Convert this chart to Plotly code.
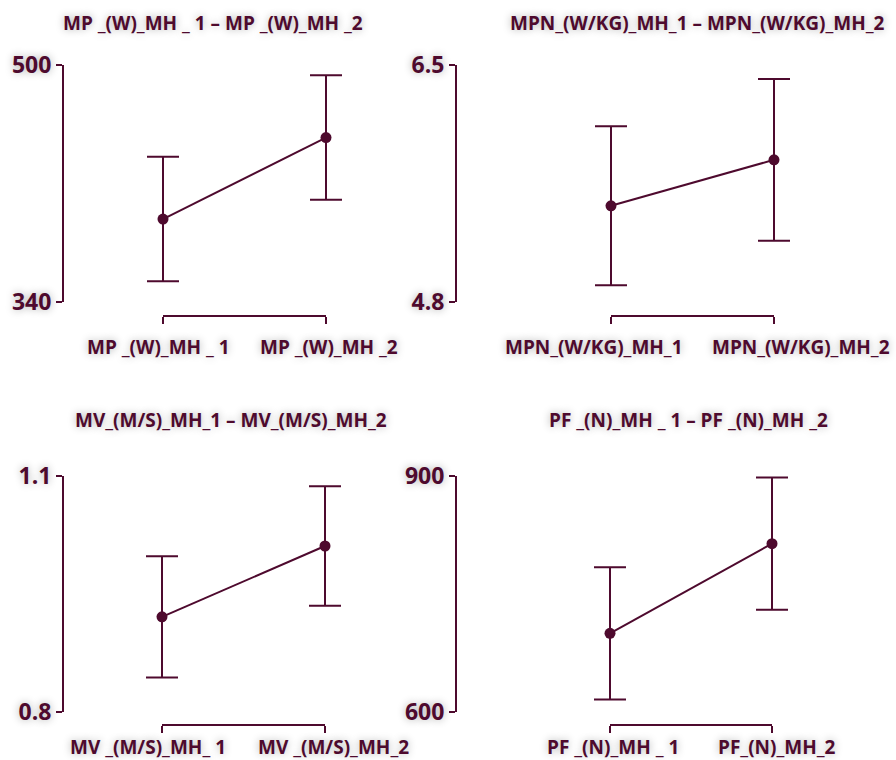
import plotly.graph_objects as go

W, H = 896, 760
COLOR = "#4e0a2e"
FONT = "Open Sans"
SHADOW = "0px 0px 8px rgba(0,0,0,0.33)"

# ---- data ----
mp_labels = ["MP _(W)_MH _ 1", "MP _(W)_MH _2"]
mp_mean = [396, 451]
mp_err = [42, 42]

mpn_labels = ["MPN_(W/KG)_MH_1", "MPN_(W/KG)_MH_2"]
mpn_mean = [5.49, 5.82]
mpn_err = [0.57, 0.58]

mv_labels = ["MV _(M/S)_MH_ 1", "MV _(M/S)_MH_2"]
mv_mean = [0.921, 1.011]
mv_err = [0.077, 0.076]

pf_labels = ["PF _(N)_MH _ 1", "PF_(N)_MH_2"]
pf_mean = [700, 814]
pf_err = [84, 84]

titles = ["MP _(W)_MH _ 1 – MP _(W)_MH _2",
          "MPN_(W/KG)_MH_1 – MPN_(W/KG)_MH_2",
          "MV_(M/S)_MH_1 – MV_(M/S)_MH_2",
          "PF _(N)_MH _ 1 – PF _(N)_MH _2"]
y_ranges = [[340, 500], [4.8, 6.5], [0.8, 1.1], [600, 900]]
y_ticktext = [["340", "500"], ["4.8", "6.5"], ["0.8", "1.1"], ["600", "900"]]

# ---- layout geometry (pixels) ----
panels = [
    dict(x0=163, x1=326, y0=65, y1=302, yax=63, xax=316, title=(213, 23), lab_y=347, shifts=(-5, 3)),
    dict(x0=611, x1=774, y0=65, y1=302, yax=456, xax=316, title=(697, 23), lab_y=347, shifts=(-17, 27)),
    dict(x0=162, x1=325, y0=476, y1=712, yax=63, xax=725, title=(231, 420), lab_y=747, shifts=(-14, 8)),
    dict(x0=610, x1=772, y0=476, y1=712, yax=456, xax=725, title=(688, 420), lab_y=747, shifts=(3, 5)),
]
datasets = [(mp_labels, mp_mean, mp_err), (mpn_labels, mpn_mean, mpn_err),
            (mv_labels, mv_mean, mv_err), (pf_labels, pf_mean, pf_err)]

px = lambda v: v / W
py = lambda v: 1 - v / H

def key(prefix, n):
    return prefix if n == 1 else f"{prefix}{n}"

fig = go.Figure()
annotations = []
for i, (p, (labs, mean, err)) in enumerate(zip(panels, datasets)):
    n = i + 1
    nd = n + 4  # decorative bracket axis
    half = (p["x1"] - p["x0"]) / 2
    # invisible trace registering the trimmed bracket axis
    fig.add_trace(go.Scatter(
        x=labs, y=mean, xaxis=key("x", nd), yaxis=key("y", n), mode="markers",
        marker=dict(opacity=0), showlegend=False, hoverinfo="skip"))
    # data trace on a wide, hidden x axis (so caps are not clipped)
    fig.add_trace(go.Scatter(
        x=labs, y=mean, xaxis=key("x", n), yaxis=key("y", n), mode="lines+markers",
        line=dict(color=COLOR, width=2),
        marker=dict(color=COLOR, size=11),
        error_y=dict(type="data", array=err, visible=True, color=COLOR, thickness=2, width=16),
        cliponaxis=False, showlegend=False, hoverinfo="skip"))
    fig.layout[key("xaxis", n)] = dict(
        domain=[px(p["x0"] - half), px(p["x1"] + half)], range=[-0.5, 1.5], type="category",
        categoryarray=labs, anchor=key("y", n), visible=False, fixedrange=True, automargin=False)
    fig.layout[key("xaxis", nd)] = dict(
        domain=[px(p["x0"]), px(p["x1"])], range=[0, 1], type="category", categoryarray=labs,
        anchor="free", position=py(p["xax"]),
        showline=True, linecolor=COLOR, linewidth=2,
        ticks="outside", ticklen=7, tickwidth=2, tickcolor=COLOR,
        showticklabels=False, showgrid=False, zeroline=False, fixedrange=True, automargin=False)
    fig.layout[key("yaxis", n)] = dict(
        domain=[py(p["y1"]), py(p["y0"])], range=y_ranges[i],
        anchor="free", position=px(p["yax"]),
        showline=True, linecolor=COLOR, linewidth=2,
        ticks="outside", ticklen=6, tickwidth=2, tickcolor=COLOR,
        tickvals=[y_ranges[i][0], y_ranges[i][1]], ticktext=y_ticktext[i],
        tickfont=dict(family=FONT, size=23, color=COLOR, weight="bold", shadow=SHADOW),
        showgrid=False, zeroline=False, fixedrange=True, automargin=False)
    annotations.append(dict(
        text=titles[i], x=px(p["title"][0]), y=py(p["title"][1]), xref="paper", yref="paper",
        xanchor="center", yanchor="middle", showarrow=False,
        font=dict(family=FONT, size=19, color=COLOR, weight="bold", shadow=SHADOW)))
    for j, lab in enumerate(labs):
        annotations.append(dict(
            text=lab, x=lab, xref=key("x", n), y=py(p["lab_y"]), yref="paper",
            xanchor="center", yanchor="middle", showarrow=False, xshift=p["shifts"][j],
            font=dict(family=FONT, size=19, color=COLOR, weight="bold", shadow=SHADOW)))

fig.update_layout(
    width=W, height=H, margin=dict(l=0, r=0, t=0, b=0, pad=0),
    paper_bgcolor="white", plot_bgcolor="rgba(0,0,0,0)",
    annotations=annotations)

fig.write_html("out.html", config={"displayModeBar": False},
               post_script="document.body.style.margin='0';")
